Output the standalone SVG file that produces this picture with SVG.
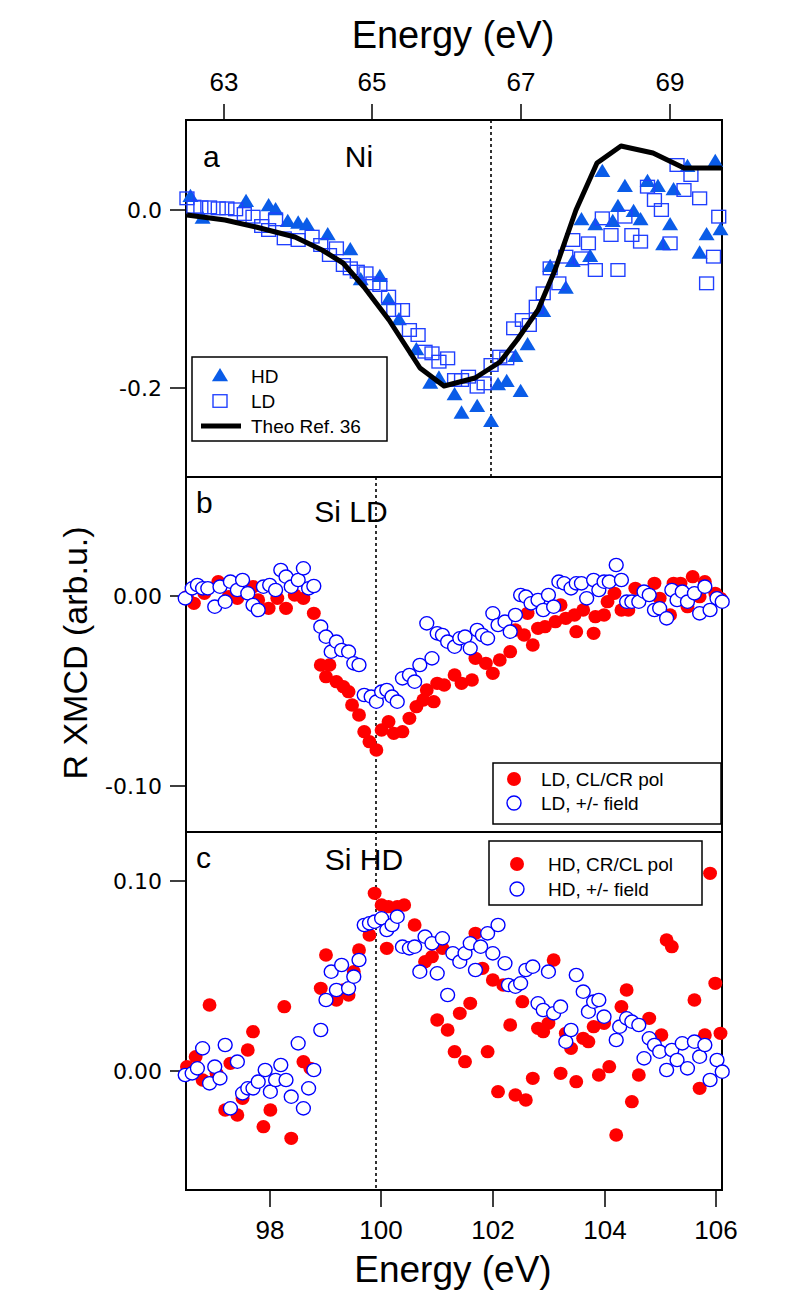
<svg xmlns="http://www.w3.org/2000/svg" xmlns:xlink="http://www.w3.org/1999/xlink" width="789" height="1315" viewBox="0 0 789 1315">
<style>
.t{font-family:"Liberation Sans",Arial,sans-serif;fill:#000}
.yl{font-family:"DejaVu Sans",sans-serif;font-size:22px;fill:#000}
.ax{stroke:#000;stroke-width:2;fill:none}
.dash{stroke:#000;stroke-width:1.6;stroke-dasharray:3,3}
.rd{fill:#ff0000}
.oc{fill:#fff;stroke:#0000ff;stroke-width:4}
.sq{fill:none;stroke:#2040ff;stroke-width:4}
.tr{fill:#0a5ce8}
</style>
<defs>
<path id="tri" d="M0,-24 L23,16 L-23,16Z"/>
<rect id="sqr" x="-20" y="-19" width="40" height="38"/>
</defs>
<rect width="789" height="1315" fill="#fff"/>
<text class="t" x="453" y="48" font-size="38" text-anchor="middle">Energy (eV)</text>
<g class="t" font-size="26" text-anchor="middle">
<text x="224" y="91">63</text><text x="372" y="91">65</text><text x="521" y="91">67</text><text x="670" y="91">69</text>
<text x="270" y="1239">98</text><text x="381" y="1239">100</text><text x="493" y="1239">102</text><text x="605" y="1239">104</text><text x="716" y="1239">106</text>
</g>
<text class="t" x="453" y="1282" font-size="37" text-anchor="middle">Energy (eV)</text>
<text class="t" font-size="34" text-anchor="middle" transform="translate(87,653) rotate(-90)">R XMCD (arb.u.)</text>
<g class="yl" text-anchor="end">
<text x="162" y="218">0.0</text><text x="162" y="396">-0.2</text>
<text x="162" y="604">0.00</text><text x="162" y="794">-0.10</text>
<text x="162" y="889">0.10</text><text x="162" y="1079">0.00</text>
</g>
<g class="ax">
<rect x="186" y="120" width="536" height="1070"/>
<line x1="186" y1="477" x2="722" y2="477"/><line x1="186" y1="832" x2="722" y2="832"/>
<path d="M224,120V104M372,120V104M521,120V104M670,120V104M270,1190V1207M381,1190V1207M493,1190V1207M605,1190V1207M716,1190V1207M170,210H186M170,388H186M170,596H186M170,786H186M170,881H186M170,1071H186" stroke-width="1.5"/>
</g>
<line class="dash" x1="491" y1="120" x2="491" y2="477"/>
<line class="dash" x1="376" y1="477" x2="376" y2="1190"/>
<g id="panel-a">
<text class="t" x="203" y="167" font-size="30">a</text>
<text class="t" x="359" y="167" font-size="30" text-anchor="middle">Ni</text>
<g transform="translate(180,120) scale(0.34758,0.33333)">
<g class="tr">
<use href="#tri" x="30" y="230"/><use href="#tri" x="65" y="295"/><use href="#tri" x="190" y="245"/><use href="#tri" x="255" y="258"/><use href="#tri" x="275" y="270"/><use href="#tri" x="310" y="305"/><use href="#tri" x="340" y="310"/><use href="#tri" x="365" y="315"/><use href="#tri" x="425" y="345"/><use href="#tri" x="490" y="390"/><use href="#tri" x="520" y="480"/><use href="#tri" x="575" y="470"/><use href="#tri" x="600" y="540"/><use href="#tri" x="630" y="600"/><use href="#tri" x="680" y="690"/><use href="#tri" x="720" y="790"/><use href="#tri" x="745" y="775"/><use href="#tri" x="790" y="825"/><use href="#tri" x="810" y="880"/><use href="#tri" x="855" y="860"/><use href="#tri" x="895" y="905"/><use href="#tri" x="915" y="795"/><use href="#tri" x="940" y="785"/><use href="#tri" x="965" y="710"/><use href="#tri" x="980" y="815"/><use href="#tri" x="1000" y="675"/><use href="#tri" x="1045" y="575"/><use href="#tri" x="1065" y="440"/><use href="#tri" x="1110" y="505"/><use href="#tri" x="1130" y="425"/><use href="#tri" x="1155" y="300"/><use href="#tri" x="1180" y="410"/><use href="#tri" x="1195" y="315"/><use href="#tri" x="1215" y="155"/><use href="#tri" x="1245" y="305"/><use href="#tri" x="1260" y="260"/><use href="#tri" x="1280" y="200"/><use href="#tri" x="1305" y="275"/><use href="#tri" x="1325" y="300"/><use href="#tri" x="1345" y="185"/><use href="#tri" x="1375" y="200"/><use href="#tri" x="1390" y="375"/><use href="#tri" x="1410" y="315"/><use href="#tri" x="1420" y="210"/><use href="#tri" x="1460" y="140"/><use href="#tri" x="1495" y="400"/><use href="#tri" x="1515" y="345"/><use href="#tri" x="1540" y="125"/><use href="#tri" x="1555" y="330"/>
</g>
<g class="sq">
<use href="#sqr" x="20" y="235"/><use href="#sqr" x="40" y="260"/><use href="#sqr" x="60" y="262"/><use href="#sqr" x="85" y="262"/><use href="#sqr" x="110" y="265"/><use href="#sqr" x="135" y="265"/><use href="#sqr" x="160" y="268"/><use href="#sqr" x="185" y="282"/><use href="#sqr" x="210" y="290"/><use href="#sqr" x="235" y="318"/><use href="#sqr" x="255" y="330"/><use href="#sqr" x="275" y="298"/><use href="#sqr" x="300" y="355"/><use href="#sqr" x="340" y="360"/><use href="#sqr" x="380" y="350"/><use href="#sqr" x="405" y="375"/><use href="#sqr" x="430" y="405"/><use href="#sqr" x="450" y="385"/><use href="#sqr" x="470" y="435"/><use href="#sqr" x="490" y="445"/><use href="#sqr" x="510" y="455"/><use href="#sqr" x="535" y="460"/><use href="#sqr" x="555" y="490"/><use href="#sqr" x="575" y="495"/><use href="#sqr" x="600" y="530"/><use href="#sqr" x="615" y="570"/><use href="#sqr" x="640" y="570"/><use href="#sqr" x="660" y="630"/><use href="#sqr" x="685" y="645"/><use href="#sqr" x="705" y="695"/><use href="#sqr" x="725" y="700"/><use href="#sqr" x="745" y="725"/><use href="#sqr" x="770" y="715"/><use href="#sqr" x="790" y="780"/><use href="#sqr" x="810" y="780"/><use href="#sqr" x="830" y="770"/><use href="#sqr" x="855" y="800"/><use href="#sqr" x="875" y="790"/><use href="#sqr" x="895" y="735"/><use href="#sqr" x="920" y="710"/><use href="#sqr" x="940" y="715"/><use href="#sqr" x="960" y="625"/><use href="#sqr" x="985" y="600"/><use href="#sqr" x="1005" y="615"/><use href="#sqr" x="1025" y="560"/><use href="#sqr" x="1045" y="520"/><use href="#sqr" x="1065" y="445"/><use href="#sqr" x="1090" y="490"/><use href="#sqr" x="1110" y="410"/><use href="#sqr" x="1130" y="360"/><use href="#sqr" x="1155" y="415"/><use href="#sqr" x="1175" y="370"/><use href="#sqr" x="1195" y="450"/><use href="#sqr" x="1215" y="295"/><use href="#sqr" x="1240" y="345"/><use href="#sqr" x="1260" y="450"/><use href="#sqr" x="1280" y="290"/><use href="#sqr" x="1300" y="345"/><use href="#sqr" x="1325" y="365"/><use href="#sqr" x="1345" y="200"/><use href="#sqr" x="1365" y="240"/><use href="#sqr" x="1385" y="270"/><use href="#sqr" x="1410" y="370"/><use href="#sqr" x="1430" y="135"/><use href="#sqr" x="1450" y="210"/><use href="#sqr" x="1470" y="165"/><use href="#sqr" x="1495" y="235"/><use href="#sqr" x="1515" y="490"/><use href="#sqr" x="1535" y="410"/><use href="#sqr" x="1550" y="290"/>
</g>
</g>
<polyline points="187,215 225,220 256,227 295,237 322,250 343,263 364,287 389,320 420,368 444,386 475,378 500,362 517,340 538,310 555,270 576,210 597,163 621,146 653,153 684,168 722,168" fill="none" stroke="#000" stroke-width="5" stroke-linejoin="round"/>
<rect x="192" y="357" width="195" height="84" fill="#fff" stroke="#000" stroke-width="1.5"/>
<g transform="translate(220,376) scale(0.35,0.33)" class="tr"><use href="#tri" x="0" y="0"/></g>
<g transform="translate(220,401) scale(0.35,0.33)" class="sq"><use href="#sqr" x="0" y="0"/></g>
<line x1="201" y1="426" x2="241" y2="426" stroke="#000" stroke-width="5"/>
<g class="t" font-size="19"><text x="251" y="383">HD</text><text x="251" y="408">LD</text><text x="251" y="433">Theo Ref. 36</text></g>
</g>
<g id="panel-b">
<text class="t" x="196" y="513" font-size="30">b</text>
<text class="t" x="351" y="522" font-size="30" text-anchor="middle">Si LD</text>
<g transform="translate(180,550) scale(0.34758,0.33333)">
<g class="rd">
<circle r="20" cx="20" cy="140"/><circle r="20" cx="40" cy="160"/><circle r="20" cx="70" cy="130"/><circle r="20" cx="110" cy="95"/><circle r="20" cx="140" cy="140"/><circle r="20" cx="165" cy="145"/><circle r="20" cx="210" cy="110"/><circle r="20" cx="225" cy="150"/><circle r="20" cx="255" cy="175"/><circle r="20" cx="280" cy="145"/><circle r="20" cx="305" cy="175"/><circle r="20" cx="330" cy="135"/><circle r="20" cx="355" cy="145"/><circle r="20" cx="385" cy="190"/><circle r="20" cx="405" cy="345"/><circle r="20" cx="430" cy="345"/><circle r="20" cx="420" cy="380"/><circle r="20" cx="450" cy="395"/><circle r="20" cx="470" cy="410"/><circle r="20" cx="485" cy="425"/><circle r="20" cx="495" cy="465"/><circle r="20" cx="515" cy="495"/><circle r="20" cx="530" cy="545"/><circle r="20" cx="545" cy="575"/><circle r="20" cx="565" cy="600"/><circle r="20" cx="580" cy="540"/><circle r="20" cx="600" cy="515"/><circle r="20" cx="615" cy="550"/><circle r="20" cx="640" cy="545"/><circle r="20" cx="660" cy="505"/><circle r="20" cx="680" cy="470"/><circle r="20" cx="700" cy="450"/><circle r="20" cx="710" cy="420"/><circle r="20" cx="730" cy="455"/><circle r="20" cx="740" cy="400"/><circle r="20" cx="760" cy="405"/><circle r="20" cx="790" cy="375"/><circle r="20" cx="810" cy="400"/><circle r="20" cx="840" cy="390"/><circle r="20" cx="850" cy="325"/><circle r="20" cx="880" cy="340"/><circle r="20" cx="900" cy="370"/><circle r="20" cx="920" cy="330"/><circle r="20" cx="950" cy="305"/><circle r="20" cx="965" cy="240"/><circle r="20" cx="990" cy="255"/><circle r="20" cx="1000" cy="190"/><circle r="20" cx="1015" cy="285"/><circle r="20" cx="1030" cy="235"/><circle r="20" cx="1050" cy="230"/><circle r="20" cx="1080" cy="215"/><circle r="20" cx="1095" cy="165"/><circle r="20" cx="1110" cy="205"/><circle r="20" cx="1135" cy="195"/><circle r="20" cx="1140" cy="245"/><circle r="20" cx="1160" cy="180"/><circle r="20" cx="1190" cy="250"/><circle r="20" cx="1195" cy="200"/><circle r="20" cx="1220" cy="195"/><circle r="20" cx="1230" cy="155"/><circle r="20" cx="1250" cy="130"/><circle r="20" cx="1270" cy="180"/><circle r="20" cx="1290" cy="180"/><circle r="20" cx="1310" cy="115"/><circle r="20" cx="1335" cy="125"/><circle r="20" cx="1365" cy="100"/><circle r="20" cx="1380" cy="145"/><circle r="20" cx="1410" cy="195"/><circle r="20" cx="1420" cy="100"/><circle r="20" cx="1440" cy="100"/><circle r="20" cx="1460" cy="170"/><circle r="20" cx="1475" cy="80"/><circle r="20" cx="1495" cy="140"/><circle r="20" cx="1510" cy="95"/><circle r="20" cx="1540" cy="130"/><circle r="20" cx="1555" cy="145"/>
</g>
<g class="oc">
<circle r="20" cx="15" cy="145"/><circle r="20" cx="35" cy="115"/><circle r="20" cx="50" cy="105"/><circle r="20" cx="65" cy="115"/><circle r="20" cx="80" cy="115"/><circle r="20" cx="100" cy="170"/><circle r="20" cx="115" cy="110"/><circle r="20" cx="130" cy="155"/><circle r="20" cx="145" cy="95"/><circle r="20" cx="165" cy="120"/><circle r="20" cx="180" cy="90"/><circle r="20" cx="195" cy="130"/><circle r="20" cx="210" cy="165"/><circle r="20" cx="225" cy="180"/><circle r="20" cx="240" cy="110"/><circle r="20" cx="258" cy="105"/><circle r="20" cx="275" cy="120"/><circle r="20" cx="290" cy="60"/><circle r="20" cx="305" cy="80"/><circle r="20" cx="320" cy="110"/><circle r="20" cx="340" cy="90"/><circle r="20" cx="355" cy="55"/><circle r="20" cx="370" cy="115"/><circle r="20" cx="385" cy="108"/><circle r="20" cx="405" cy="230"/><circle r="20" cx="420" cy="260"/><circle r="20" cx="435" cy="305"/><circle r="20" cx="450" cy="275"/><circle r="20" cx="465" cy="300"/><circle r="20" cx="485" cy="305"/><circle r="20" cx="500" cy="340"/><circle r="20" cx="515" cy="345"/><circle r="20" cx="530" cy="435"/><circle r="20" cx="550" cy="440"/><circle r="20" cx="565" cy="455"/><circle r="20" cx="580" cy="425"/><circle r="20" cx="595" cy="420"/><circle r="20" cx="610" cy="440"/><circle r="20" cx="625" cy="455"/><circle r="20" cx="640" cy="385"/><circle r="20" cx="660" cy="375"/><circle r="20" cx="675" cy="395"/><circle r="20" cx="690" cy="345"/><circle r="20" cx="710" cy="220"/><circle r="20" cx="725" cy="325"/><circle r="20" cx="740" cy="250"/><circle r="20" cx="755" cy="255"/><circle r="20" cx="770" cy="275"/><circle r="20" cx="790" cy="290"/><circle r="20" cx="805" cy="265"/><circle r="20" cx="820" cy="260"/><circle r="20" cx="835" cy="295"/><circle r="20" cx="855" cy="240"/><circle r="20" cx="870" cy="255"/><circle r="20" cx="885" cy="265"/><circle r="20" cx="900" cy="190"/><circle r="20" cx="915" cy="225"/><circle r="20" cx="935" cy="215"/><circle r="20" cx="950" cy="245"/><circle r="20" cx="965" cy="195"/><circle r="20" cx="980" cy="135"/><circle r="20" cx="995" cy="140"/><circle r="20" cx="1010" cy="160"/><circle r="20" cx="1030" cy="150"/><circle r="20" cx="1045" cy="180"/><circle r="20" cx="1060" cy="135"/><circle r="20" cx="1075" cy="170"/><circle r="20" cx="1090" cy="95"/><circle r="20" cx="1105" cy="100"/><circle r="20" cx="1125" cy="115"/><circle r="20" cx="1140" cy="100"/><circle r="20" cx="1155" cy="100"/><circle r="20" cx="1170" cy="145"/><circle r="20" cx="1190" cy="90"/><circle r="20" cx="1205" cy="120"/><circle r="20" cx="1220" cy="95"/><circle r="20" cx="1235" cy="95"/><circle r="20" cx="1255" cy="45"/><circle r="20" cx="1270" cy="90"/><circle r="20" cx="1285" cy="155"/><circle r="20" cx="1300" cy="155"/><circle r="20" cx="1320" cy="155"/><circle r="20" cx="1335" cy="125"/><circle r="20" cx="1350" cy="135"/><circle r="20" cx="1365" cy="180"/><circle r="20" cx="1380" cy="175"/><circle r="20" cx="1400" cy="205"/><circle r="20" cx="1415" cy="120"/><circle r="20" cx="1430" cy="150"/><circle r="20" cx="1445" cy="125"/><circle r="20" cx="1460" cy="155"/><circle r="20" cx="1480" cy="130"/><circle r="20" cx="1495" cy="190"/><circle r="20" cx="1510" cy="110"/><circle r="20" cx="1525" cy="180"/><circle r="20" cx="1545" cy="145"/><circle r="20" cx="1560" cy="155"/>
</g>
</g>
<rect x="493" y="763" width="228" height="61" fill="#fff" stroke="#000" stroke-width="1.5"/>
<circle cx="514" cy="779" r="7" class="rd"/>
<circle cx="514" cy="803" r="7" fill="#fff" stroke="#0000ff" stroke-width="1.4"/>
<g class="t" font-size="19"><text x="541" y="786">LD, CL/CR pol</text><text x="541" y="810">LD, +/- field</text></g>
</g>
<g id="panel-c">
<text class="t" x="196" y="868" font-size="30">c</text>
<text class="t" x="364" y="870" font-size="30" text-anchor="middle">Si HD</text>
<rect x="489" y="841" width="213" height="64" fill="#fff" stroke="#000" stroke-width="1.5"/>
<circle cx="517" cy="864" r="7" class="rd"/>
<circle cx="517" cy="889" r="7" fill="#fff" stroke="#0000ff" stroke-width="1.4"/>
<g class="t" font-size="19"><text x="548" y="871">HD, CR/CL pol</text><text x="548" y="896">HD, +/- field</text></g>
<g transform="translate(180,850) scale(0.34758,0.33333)">
<g class="rd">
<circle r="20" cx="20" cy="650"/><circle r="20" cx="45" cy="620"/><circle r="20" cx="65" cy="690"/><circle r="20" cx="85" cy="465"/><circle r="20" cx="105" cy="670"/><circle r="20" cx="130" cy="780"/><circle r="20" cx="145" cy="640"/><circle r="20" cx="165" cy="795"/><circle r="20" cx="180" cy="745"/><circle r="20" cx="195" cy="600"/><circle r="20" cx="210" cy="545"/><circle r="20" cx="240" cy="830"/><circle r="20" cx="260" cy="780"/><circle r="20" cx="300" cy="470"/><circle r="20" cx="320" cy="865"/><circle r="20" cx="355" cy="635"/><circle r="20" cx="375" cy="655"/><circle r="20" cx="405" cy="415"/><circle r="20" cx="420" cy="315"/><circle r="20" cx="450" cy="450"/><circle r="20" cx="470" cy="420"/><circle r="20" cx="485" cy="435"/><circle r="20" cx="500" cy="365"/><circle r="20" cx="515" cy="300"/><circle r="20" cx="545" cy="255"/><circle r="20" cx="560" cy="130"/><circle r="20" cx="580" cy="165"/><circle r="20" cx="600" cy="170"/><circle r="20" cx="595" cy="295"/><circle r="20" cx="625" cy="170"/><circle r="20" cx="645" cy="165"/><circle r="20" cx="675" cy="225"/><circle r="20" cx="705" cy="335"/><circle r="20" cx="725" cy="320"/><circle r="20" cx="740" cy="510"/><circle r="20" cx="755" cy="295"/><circle r="20" cx="770" cy="540"/><circle r="20" cx="790" cy="605"/><circle r="20" cx="805" cy="490"/><circle r="20" cx="820" cy="635"/><circle r="20" cx="835" cy="460"/><circle r="20" cx="850" cy="250"/><circle r="20" cx="870" cy="355"/><circle r="20" cx="885" cy="605"/><circle r="20" cx="900" cy="390"/><circle r="20" cx="915" cy="725"/><circle r="20" cx="930" cy="405"/><circle r="20" cx="950" cy="525"/><circle r="20" cx="965" cy="735"/><circle r="20" cx="985" cy="455"/><circle r="20" cx="995" cy="750"/><circle r="20" cx="1015" cy="685"/><circle r="20" cx="1030" cy="535"/><circle r="20" cx="1045" cy="545"/><circle r="20" cx="1060" cy="520"/><circle r="20" cx="1075" cy="330"/><circle r="20" cx="1095" cy="670"/><circle r="20" cx="1110" cy="550"/><circle r="20" cx="1125" cy="595"/><circle r="20" cx="1140" cy="695"/><circle r="20" cx="1160" cy="565"/><circle r="20" cx="1175" cy="575"/><circle r="20" cx="1190" cy="530"/><circle r="20" cx="1205" cy="675"/><circle r="20" cx="1220" cy="520"/><circle r="20" cx="1235" cy="650"/><circle r="20" cx="1255" cy="855"/><circle r="20" cx="1270" cy="470"/><circle r="20" cx="1285" cy="420"/><circle r="20" cx="1300" cy="755"/><circle r="20" cx="1320" cy="675"/><circle r="20" cx="1350" cy="505"/><circle r="20" cx="1385" cy="555"/><circle r="20" cx="1400" cy="270"/><circle r="20" cx="1415" cy="290"/><circle r="20" cx="1480" cy="450"/><circle r="20" cx="1495" cy="715"/><circle r="20" cx="1510" cy="555"/><circle r="20" cx="1525" cy="70"/><circle r="20" cx="1540" cy="400"/><circle r="20" cx="1555" cy="550"/>
</g>
<g class="oc">
<circle r="20" cx="15" cy="675"/><circle r="20" cx="35" cy="670"/><circle r="20" cx="50" cy="655"/><circle r="20" cx="65" cy="595"/><circle r="20" cx="85" cy="700"/><circle r="20" cx="100" cy="650"/><circle r="20" cx="115" cy="685"/><circle r="20" cx="130" cy="585"/><circle r="20" cx="145" cy="775"/><circle r="20" cx="165" cy="635"/><circle r="20" cx="180" cy="730"/><circle r="20" cx="195" cy="715"/><circle r="20" cx="210" cy="715"/><circle r="20" cx="225" cy="695"/><circle r="20" cx="245" cy="660"/><circle r="20" cx="260" cy="725"/><circle r="20" cx="275" cy="690"/><circle r="20" cx="290" cy="645"/><circle r="20" cx="305" cy="690"/><circle r="20" cx="320" cy="740"/><circle r="20" cx="340" cy="580"/><circle r="20" cx="355" cy="775"/><circle r="20" cx="370" cy="715"/><circle r="20" cx="385" cy="660"/><circle r="20" cx="405" cy="540"/><circle r="20" cx="420" cy="450"/><circle r="20" cx="435" cy="365"/><circle r="20" cx="450" cy="420"/><circle r="20" cx="465" cy="345"/><circle r="20" cx="485" cy="415"/><circle r="20" cx="500" cy="380"/><circle r="20" cx="515" cy="330"/><circle r="20" cx="530" cy="225"/><circle r="20" cx="545" cy="220"/><circle r="20" cx="560" cy="215"/><circle r="20" cx="580" cy="205"/><circle r="20" cx="595" cy="240"/><circle r="20" cx="610" cy="225"/><circle r="20" cx="625" cy="200"/><circle r="20" cx="640" cy="290"/><circle r="20" cx="660" cy="295"/><circle r="20" cx="675" cy="290"/><circle r="20" cx="690" cy="365"/><circle r="20" cx="705" cy="260"/><circle r="20" cx="725" cy="280"/><circle r="20" cx="740" cy="370"/><circle r="20" cx="755" cy="265"/><circle r="20" cx="770" cy="435"/><circle r="20" cx="785" cy="310"/><circle r="20" cx="805" cy="335"/><circle r="20" cx="820" cy="310"/><circle r="20" cx="835" cy="280"/><circle r="20" cx="850" cy="360"/><circle r="20" cx="865" cy="290"/><circle r="20" cx="885" cy="250"/><circle r="20" cx="900" cy="310"/><circle r="20" cx="915" cy="225"/><circle r="20" cx="935" cy="340"/><circle r="20" cx="945" cy="405"/><circle r="20" cx="965" cy="410"/><circle r="20" cx="980" cy="400"/><circle r="20" cx="995" cy="360"/><circle r="20" cx="1015" cy="350"/><circle r="20" cx="1030" cy="460"/><circle r="20" cx="1045" cy="480"/><circle r="20" cx="1060" cy="365"/><circle r="20" cx="1075" cy="490"/><circle r="20" cx="1095" cy="470"/><circle r="20" cx="1110" cy="575"/><circle r="20" cx="1125" cy="540"/><circle r="20" cx="1140" cy="375"/><circle r="20" cx="1160" cy="425"/><circle r="20" cx="1175" cy="485"/><circle r="20" cx="1190" cy="455"/><circle r="20" cx="1205" cy="450"/><circle r="20" cx="1220" cy="500"/><circle r="20" cx="1255" cy="570"/><circle r="20" cx="1265" cy="530"/><circle r="20" cx="1285" cy="505"/><circle r="20" cx="1300" cy="515"/><circle r="20" cx="1320" cy="525"/><circle r="20" cx="1335" cy="625"/><circle r="20" cx="1350" cy="565"/><circle r="20" cx="1365" cy="585"/><circle r="20" cx="1380" cy="605"/><circle r="20" cx="1400" cy="660"/><circle r="20" cx="1415" cy="600"/><circle r="20" cx="1430" cy="630"/><circle r="20" cx="1445" cy="580"/><circle r="20" cx="1460" cy="655"/><circle r="20" cx="1480" cy="575"/><circle r="20" cx="1495" cy="620"/><circle r="20" cx="1510" cy="585"/><circle r="20" cx="1525" cy="690"/><circle r="20" cx="1545" cy="630"/><circle r="20" cx="1560" cy="665"/>
</g>
</g>
</g>
</svg>
